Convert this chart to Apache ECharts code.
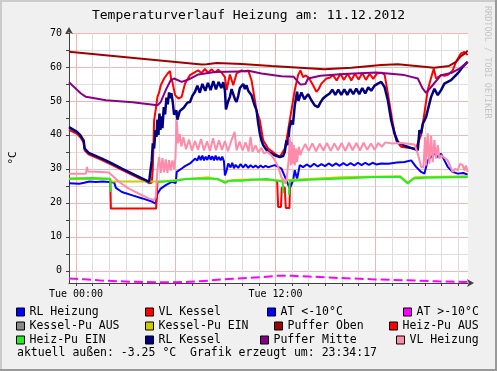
<!DOCTYPE html>
<html>
<head>
<meta charset="utf-8">
<script src="https://cdn.jsdelivr.net/npm/echarts@6/dist/echarts.min.js"></script>
<style>
html,body{margin:0;padding:0;background:#f0f0f0;}
#chart{width:497px;height:371px;}
</style>
</head>
<body>
<div id="chart"></div>
<script>
// ---- tick / label definitions ----
var hourTicks = [0,1,2,3,4,5,6,7,8,9,10,11,12,13,14,15,16,17,18,19,20,21,22,23];
var majorHourTicks = [0,6,12,18];
var xLabelHours = [0,12];
var dayLabel = 'Tue';
var yMinorTicks = [0,5,10,15,20,25,30,35,40,45,50,55,60,65,70];
var yMajorTicks = [0,10,20,30,40,50,60,70];
var titleText = 'Temperaturverlauf Heizung am: 11.12.2012';
var aktuellText = 'aktuell außen: -3.25 °C  Grafik erzeugt um: 23:34:17';

// ---- series data: [hour, °C] ----
var rlHeizung = [[-0.42,25.8],[0.2,25.6],[0.5,25.9],[0.8,26.3],[1.2,26.1],[1.6,26.3],[2.0,26.1],[2.3,26.0],[2.4,24.4],[2.76,23.2],[3.4,22.2],[4.0,21.3],[4.6,20.3],[4.8,19.8],[4.9,22.7],[5.1,24.2],[5.4,25.2],[5.76,26.2],[6.0,25.8],[6.06,29.1],[6.36,30.1],[6.56,30.8],[6.86,31.6],[7.16,33],[7.3,32.5],[7.4,33.8],[7.5,32.6],[7.6,33.9],[7.7,32.5],[7.8,33.6],[7.9,32.6],[8.0,34],[8.1,32.7],[8.2,33.7],[8.3,32.5],[8.4,33.9],[8.5,32.6],[8.6,33.5],[8.7,32.5],[8.8,33.6],[8.9,32.2],[8.96,28.1],[9.06,29.5],[9.16,31.6],[9.3,30.4],[9.4,31.8],[9.5,30.2],[9.6,31.2],[9.76,30.3],[9.9,31.4],[10.06,30.4],[10.2,31.3],[10.36,30.3],[10.5,31.1],[10.66,30.4],[10.8,31.0],[10.96,30.3],[11.1,31.0],[11.26,30.4],[11.4,30.9],[11.56,30.5],[11.76,30.8],[11.96,31.1],[12.06,30.8],[12.36,30.1],[12.66,26.6],[12.86,24.2],[13.06,26.6],[13.16,29.6],[13.3,27],[13.46,31.1],[13.66,30.5],[13.88,31.3],[14.1,30.6],[14.32,31.5],[14.54,30.7],[14.76,31.4],[14.98,30.8],[15.2,31.6],[15.42,30.9],[15.64,31.6],[15.86,30.9],[16.08,31.7],[16.3,31.0],[16.52,31.7],[16.74,31.0],[16.96,31.8],[17.18,31.1],[17.4,31.8],[17.62,31.2],[17.84,31.8],[18.06,31.3],[18.36,31.6],[18.8,31.5],[19.3,31.9],[19.76,32.0],[20.16,32.5],[20.46,30.6],[20.76,29.1],[20.96,28.6],[21.16,32.5],[21.36,33.5],[21.56,34.5],[21.76,33.5],[21.96,34.5],[22.16,32.5],[22.36,30.6],[22.66,29.1],[22.96,28.6],[23.3,28.8],[23.56,28.3]];

var vlKessel = [[-0.42,41.5],[-0.34,41.3],[0.06,40.3],[0.26,39.3],[0.46,37.8],[0.52,35.5],[0.76,34.3],[1.56,32.6],[2.16,31.2],[2.76,29.7],[4.4,25.8],[4.56,25.9],[4.62,30],[4.7,44.3],[4.8,47.5],[4.9,51.2],[5.0,52.5],[5.1,54.6],[5.16,54.1],[5.3,56.6],[5.4,57],[5.5,58],[5.6,58.5],[5.66,58.8],[5.72,56.5],[5.8,55.6],[5.96,51.7],[6.16,50.7],[6.36,51.2],[6.56,55.1],[6.86,57.6],[7.16,58.5],[7.35,59.0],[7.55,58.2],[7.75,59.4],[7.95,58.3],[8.15,59.3],[8.35,58.4],[8.55,59.2],[8.75,58.4],[8.96,57],[9.06,53.2],[9.26,57.8],[9.46,54.6],[9.66,58.1],[9.96,59],[10.16,58.7],[10.36,59],[10.56,56.1],[10.76,50.2],[10.86,47],[11.06,44.3],[11.26,38.4],[11.56,36],[11.96,34.5],[12.26,33.5],[12.36,34],[12.56,36],[12.66,38.4],[12.96,47.3],[13.16,53.2],[13.36,57.6],[13.5,59],[13.66,57],[13.8,57.5],[13.96,57],[14.1,56],[14.26,54.6],[14.46,52.7],[14.6,53.5],[14.76,55.1],[15.06,56.6],[15.26,56.8],[15.46,57.6],[15.68,56.0],[15.9,58.0],[16.12,56.2],[16.34,58.1],[16.56,56.0],[16.78,58.0],[17.0,56.3],[17.22,58.2],[17.44,56.2],[17.66,58.0],[17.88,56.5],[18.1,58.1],[18.36,58.3],[18.56,57.8],[18.66,55.1],[18.86,49.2],[19.06,43.3],[19.26,38.4],[19.56,36.5],[19.96,36.2],[20.46,36],[20.56,37.5],[20.76,40],[20.96,46.5],[21.16,53.2],[21.36,56.8],[21.52,59.5],[21.66,56.6],[21.96,57.6],[22.16,57.4],[22.36,57.6],[22.66,59],[22.86,61.5],[23.16,64],[23.36,64.4],[23.56,63.5]];

var atBelow = [];

var atAbove = [[-0.42,-2.3],[0.5,-2.5],[1.56,-2.9],[3.16,-3.2],[5.16,-3.4],[6.5,-3.3],[8,-2.9],[9.16,-2.4],[11.16,-1.9],[12,-1.5],[13,-1.5],[14,-1.7],[15.76,-2.1],[17.76,-2.5],[19.76,-2.8],[21.76,-3.1],[23.36,-3.3],[23.56,-3.25]];

var kesselPuAus = [];

var kesselPuEin = [[-0.42,27.0],[2.05,27.0],[2.12,26.3],[4.9,26.3],[5.5,26.4],[6.6,27.0],[8.0,27.5],[8.96,26.3],[9.5,26.7],[10.5,26.9],[12.4,26.6],[13.0,26.8],[16.0,27.5],[19.5,27.8],[19.96,26.0],[20.4,27.5],[23.56,27.8]];

var pufferOben = [[-0.42,64.5],[7.56,60.7],[7.86,60.8],[8.46,61.2],[9.96,60.9],[11.76,60.3],[14.94,59.3],[16.56,59.8],[18.36,60.6],[19.36,60.8],[21.54,59.8],[22.44,60.3],[22.86,61.5],[23.16,63.2],[23.4,64],[23.56,64.8]];

var heizPuAus = [[2.06,26.6],[2.1,18.3],[4.82,18.3],[4.9,26],[4.95,null],[12.1,26.5],[12.16,18.8],[12.33,18.8],[12.38,24.5],[12.56,24.5],[12.62,18.5],[12.84,18.5],[12.88,26]];

var heizPuEin = [[-0.42,27.2],[1.0,27.3],[2.06,27.1],[2.1,23.2],[2.15,null],[4.9,26.1],[5.4,26.3],[6.0,26.5],[6.6,27.0],[7.5,27.1],[8.5,27.1],[8.96,25.9],[9.2,26.5],[10.0,26.5],[10.5,26.8],[11.5,27.0],[12.44,26.2],[12.47,22.8],[12.6,null],[12.8,22.3],[12.86,26.4],[14.0,26.8],[16.0,27.2],[18.0,27.6],[19.5,27.6],[19.96,25.7],[20.3,27.2],[21.0,27.4],[23.56,27.6]];

var rlKessel = [[-0.42,42.3],[-0.34,42.2],[0.06,40.9],[0.26,39.9],[0.46,38.4],[0.52,36],[0.76,34.7],[1.56,33],[2.16,31.6],[2.76,30.1],[4.4,26.2],[4.52,26.1],[4.56,32.5],[4.62,37.5],[4.7,36],[4.78,41.4],[4.84,39.4],[4.9,44.5],[4.96,40],[5.02,46.3],[5.08,41.5],[5.14,45.5],[5.2,42],[5.28,48.2],[5.36,46],[5.44,51],[5.52,49],[5.6,52.5],[5.68,50.8],[5.74,52.3],[5.82,49.7],[5.9,46],[5.96,45.8],[6.04,47.2],[6.1,44.5],[6.16,44.3],[6.24,47],[6.36,46.8],[6.48,48],[6.56,48.2],[6.7,49.5],[6.86,49.7],[7.0,51.5],[7.16,52.7],[7.3,54.5],[7.45,52.4],[7.6,55.0],[7.78,53.0],[7.94,55.3],[8.1,53.2],[8.26,55.8],[8.42,53.4],[8.58,55.6],[8.74,53.8],[8.86,55.5],[8.96,53.0],[9.02,47.5],[9.08,47.3],[9.16,50],[9.26,51.2],[9.36,53.5],[9.46,53.2],[9.56,50.5],[9.66,49.7],[9.76,51.5],[9.86,53.8],[9.96,53.6],[10.06,55],[10.16,53.5],[10.26,54.6],[10.36,53],[10.46,52.5],[10.56,51.7],[10.66,50],[10.76,48.5],[10.86,47.3],[10.96,43.5],[11.06,40.4],[11.16,38.3],[11.26,37],[11.4,36],[11.56,35],[11.76,34.5],[11.96,34],[12.26,33.5],[12.46,33.8],[12.56,35],[12.66,38.4],[12.75,37],[12.84,42],[12.96,44.3],[13.05,43],[13.16,48.7],[13.3,52.7],[13.38,50],[13.46,51.2],[13.56,52.5],[13.66,52.2],[13.74,50.5],[13.86,50.7],[13.96,52],[14.06,51.7],[14.16,50.2],[14.36,48.7],[14.56,48.2],[14.7,49.5],[14.86,50.7],[15.06,51.5],[15.26,52.2],[15.42,53.3],[15.6,51.8],[15.78,53.3],[15.96,51.8],[16.14,53.4],[16.32,51.8],[16.5,53.5],[16.68,52],[16.86,53.6],[17.04,52],[17.22,53.8],[17.4,52.2],[17.58,54],[17.76,53],[17.96,54.5],[18.16,55.1],[18.36,55.6],[18.56,54.1],[18.76,50.2],[18.96,44.3],[19.16,40.4],[19.36,37.9],[19.76,36.8],[20.36,35.8],[20.56,35.5],[20.66,41.4],[20.76,40.5],[20.86,43.3],[20.96,43],[21.06,45.3],[21.16,47.3],[21.36,51.2],[21.56,53.6],[21.76,51.7],[21.96,53.2],[22.16,55.1],[22.56,56.1],[22.96,58.1],[23.26,60],[23.56,61.5]];

var pufferMitte = [[-0.42,55.5],[0.3,52.2],[0.6,51.2],[1.8,50.2],[3.4,49.6],[4.9,48.7],[5.1,49.7],[5.4,53.2],[5.7,56.1],[5.9,56.6],[6.36,55.6],[6.76,56.3],[7.36,57.8],[8.36,58.5],[9.76,58.7],[10.45,58.8],[11.16,58.1],[12.36,57.3],[13.1,57.1],[13.5,54.8],[13.8,55.0],[13.96,56.6],[14.7,57.4],[16.1,57.9],[18.06,58.4],[18.76,58.1],[19.76,57.6],[20.56,56.6],[20.86,53.6],[21.06,52.4],[21.36,54.1],[21.96,57.6],[22.56,58.2],[23.06,59.5],[23.56,61.5]];

var vlHeizung = [[-0.42,28.6],[0.6,28.6],[0.66,30.6],[0.72,29.2],[1.5,29.1],[1.98,28.9],[2.1,28.6],[2.16,28.1],[2.58,26.2],[3.18,24.2],[3.78,22.7],[4.38,21.3],[4.7,20.8],[4.8,21.7],[4.9,29.6],[5.0,33.5],[5.1,28.8],[5.2,33.2],[5.3,29.0],[5.4,32.8],[5.5,28.8],[5.6,32.6],[5.7,29.5],[5.8,32.5],[5.9,30.0],[5.98,33.0],[6.06,44.3],[6.14,37.5],[6.24,40.2],[6.34,36.6],[6.46,39.3],[6.62,35.8],[6.8,38.6],[6.98,35.4],[7.16,38.2],[7.34,35.6],[7.52,38.8],[7.7,35.4],[7.88,38.1],[8.06,35.3],[8.24,39.0],[8.42,35.5],[8.6,38.4],[8.78,35.6],[8.96,38.2],[9.14,35.2],[9.32,38.0],[9.54,40.9],[9.66,35.5],[9.84,38.0],[10.02,35.4],[10.2,37.8],[10.38,35.1],[10.5,39.4],[10.62,35.0],[10.8,36.9],[10.98,34.8],[11.16,36.2],[11.3,34.6],[11.5,35],[11.76,34],[11.96,32.5],[12.16,30.6],[12.36,27.5],[12.6,25.7],[12.66,26.5],[12.8,33],[12.86,39.4],[12.92,31],[12.98,38],[13.04,31.5],[13.1,37],[13.16,31],[13.24,36],[13.3,32],[13.4,36.5],[13.5,34],[13.56,35.0],[13.78,37.3],[14.0,35.3],[14.22,37.5],[14.44,35.2],[14.66,37.4],[14.88,35.4],[15.1,37.6],[15.32,35.3],[15.54,37.5],[15.76,35.5],[15.98,37.6],[16.2,35.3],[16.42,37.7],[16.64,35.5],[16.86,37.6],[17.08,35.4],[17.3,37.7],[17.52,35.6],[17.74,37.5],[17.96,35.6],[18.18,37.6],[18.4,36.5],[18.6,37.8],[19.0,37.5],[19.5,37.6],[20.0,37.4],[20.36,37.2],[20.56,34.5],[20.76,30.6],[20.9,30.4],[21.0,39.4],[21.06,31],[21.16,40.5],[21.26,31.5],[21.36,39.8],[21.46,32],[21.56,38.5],[21.66,33],[21.76,37],[21.86,33],[21.96,34],[22.36,32.5],[22.66,29.1],[22.8,30],[22.96,29.6],[23.1,31.5],[23.26,31.1],[23.36,29.5],[23.46,31],[23.56,29.1]];

// ---- series meta ----
var seriesDefs = [
  {name:'RL Heizung',   data:rlHeizung,   color:'#0000ff', width:2},
  {name:'VL Kessel',    data:vlKessel,    color:'#ff0000', width:2},
  {name:'AT <-10°C',    data:atBelow,     color:'#0000ff', width:2},
  {name:'AT >-10°C',    data:atAbove,     color:'#ff00ff', width:2, dash:[9,4]},
  {name:'Kessel-Pu AUS',data:kesselPuAus, color:'#888888', width:2},
  {name:'Kessel-Pu EIN',data:kesselPuEin, color:'#cccc00', width:2},
  {name:'Puffer Oben',  data:pufferOben,  color:'#a00000', width:2},
  {name:'Heiz-Pu AUS',  data:heizPuAus,   color:'#ff0000', width:2},
  {name:'Heiz-Pu EIN',  data:heizPuEin,   color:'#22ee22', width:2},
  {name:'RL Kessel',    data:rlKessel,    color:'#000080', width:2.5},
  {name:'Puffer Mitte', data:pufferMitte, color:'#880088', width:2},
  {name:'VL Heizung',   data:vlHeizung,   color:'#ff8aaa', width:2}
];

// legend layout (row/column placement like rrdtool)
var legendPos = [
  [16,306],[145,306],[267,306],[403,306],
  [16,320],[145,320],[274,320],[389,320],
  [16,334],[145,334],[260,334],[396,334]
];

var FONT = 'DejaVu Sans Mono';

var chart = echarts.init(document.getElementById('chart'), null, {renderer:'canvas'});

var series = seriesDefs.map(function(s){
  return {
    name: s.name, type:'line', data: s.data,
    xAxisIndex:0, yAxisIndex:0,
    showSymbol:false, symbol:'none',
    connectNulls:false,
    color: s.color,
    itemStyle:{color:s.color},
    lineStyle:{color:s.color, width:s.width, type: s.dash ? s.dash : 'solid'},
    animation:false
  };
});

var legends = seriesDefs.map(function(s, i){
  return {
    data:[{name:s.name, icon:'rect'}],
    left: legendPos[i][0], top: legendPos[i][1],
    padding:0, itemWidth:8, itemHeight:8, itemGap:0,
    selectedMode:false,
    itemStyle:{borderColor:'#000', borderWidth:1},
    textStyle:{fontFamily:FONT, fontSize:11.5, color:'#000', padding:[0,0,0,0]}
  };
});

var option = {
  backgroundColor:'#f0f0f0',
  animation:false,
  title:{
    text:titleText, left:'center', top:9, padding:0,
    textStyle:{fontFamily:FONT, fontSize:13, fontWeight:'normal', color:'#000'}
  },
  legend: legends,
  grid:{left:67, top:33, width:401, height:250, show:true, backgroundColor:'#ffffff', borderWidth:0},
  xAxis:[
    {
      type:'value', min:-0.42, max:23.58, position:'bottom',
      axisLine:{show:true, onZero:false, lineStyle:{color:'#404040', width:1}, symbol:['none','arrow'], symbolSize:[6,7], symbolOffset:[0,6]},
      axisTick:{show:true, customValues:hourTicks, length:3, lineStyle:{color:'#404040'}},
      axisLabel:{customValues:xLabelHours, margin:6, fontFamily:FONT, fontSize:10, color:'#000',
        formatter:function(v){ return dayLabel + ' ' + (v<10?'0':'') + v + ':00'; }},
      splitLine:{show:true, lineStyle:{color:'#dedede', width:1}}
    },
    {
      type:'value', min:-0.42, max:23.58, position:'bottom',
      axisLine:{show:false}, axisTick:{show:false, customValues:majorHourTicks},
      axisLabel:{show:false},
      splitLine:{show:true, lineStyle:{color:'#f2b6b6', width:1}}
    }
  ],
  yAxis:[
    {
      type:'value', min:-3.6, max:70, position:'left',
      name:'°C', nameLocation:'middle', nameGap:50, nameRotate:90,
      nameTextStyle:{fontFamily:FONT, fontSize:11, color:'#000'},
      axisLine:{show:true, onZero:false, lineStyle:{color:'#404040', width:1}, symbol:['none','arrow'], symbolSize:[6,7], symbolOffset:[0,6]},
      axisTick:{show:true, customValues:yMinorTicks, length:3, lineStyle:{color:'#404040'}},
      axisLabel:{customValues:yMajorTicks, margin:7, fontFamily:FONT, fontSize:10, color:'#000'},
      splitLine:{show:true, lineStyle:{color:'#dedede', width:1}}
    },
    {
      type:'value', min:-3.6, max:70, position:'left',
      axisLine:{show:false}, axisTick:{show:false, customValues:yMajorTicks},
      axisLabel:{show:false},
      splitLine:{show:true, lineStyle:{color:'#f2b6b6', width:1}}
    }
  ],
  graphic:[
    {type:'rect', shape:{x:0,y:0,width:497,height:2}, style:{fill:'#cbcbcb'}, silent:true},
    {type:'rect', shape:{x:0,y:0,width:2,height:371}, style:{fill:'#cbcbcb'}, silent:true},
    {type:'rect', shape:{x:0,y:369,width:497,height:2}, style:{fill:'#999999'}, silent:true},
    {type:'rect', shape:{x:495,y:0,width:2,height:371}, style:{fill:'#999999'}, silent:true},
    {type:'text', x:17, y:353.5, silent:true,
      style:{text:aktuellText, font:'11.5px "DejaVu Sans Mono"', fill:'#000', textVerticalAlign:'middle'}},
    {type:'text', x:487, y:6, rotation:-Math.PI/2, silent:true,
      style:{text:'RRDTOOL / TOBI OETIKER', font:'8.5px "DejaVu Sans Mono"', fill:'#c4c4c4', textAlign:'left', textVerticalAlign:'middle'}}
  ],
  series: series
};

chart.setOption(option);
</script>
</body>
</html>
